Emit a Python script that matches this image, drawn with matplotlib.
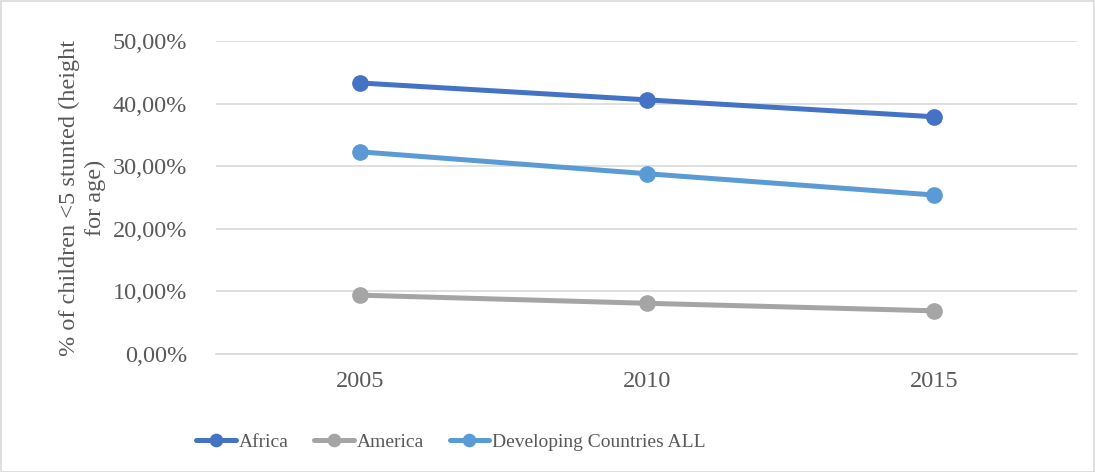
import matplotlib.pyplot as plt
import numpy as np
from matplotlib.ticker import FuncFormatter

years = ['2005', '2010', '2015']
africa = [0.433, 0.406, 0.379]
america = [0.094, 0.081, 0.069]
developing_all = [0.323, 0.288, 0.254]

plt.rcParams['font.family'] = ['Liberation Serif', 'DejaVu Serif']
text_color = '#595959'
grid_color = '#d9d9d9'

fig = plt.figure(figsize=(10.95, 4.72), dpi=100)
ax = fig.add_axes([0.1977, 0.25, 0.7863, 0.6631])

x = np.arange(len(years))
ax.plot(x, africa, color='#4472c4', lw=3.6, marker='o', ms=11, label='Africa', solid_capstyle='round')
ax.plot(x, america, color='#a5a5a5', lw=3.6, marker='o', ms=11, label='America', solid_capstyle='round')
ax.plot(x, developing_all, color='#5b9bd5', lw=3.6, marker='o', ms=11, label='Developing Countries ALL', solid_capstyle='round')

ax.set_xlim(-0.5, 2.5)
ax.set_ylim(0, 0.5)
ax.set_yticks(np.arange(0, 0.51, 0.1))
ax.yaxis.set_major_formatter(FuncFormatter(lambda v, p: f'{v*100:.2f}%'.replace('.', ',')))
ax.set_xticks(x)
ax.set_xticklabels(years)
ax.tick_params(axis='both', length=0, labelsize=17.5, labelcolor=text_color)
ax.tick_params(axis='x', pad=12)
ax.tick_params(axis='y', pad=21)

ax.grid(axis='y', color=grid_color, lw=1.2)
ax.set_axisbelow(True)
for s in ['top', 'right', 'left']:
    ax.spines[s].set_visible(False)
ax.spines['bottom'].set_color(grid_color)
ax.spines['bottom'].set_linewidth(1.2)

ax.set_ylabel('% of children <5 stunted (height\nfor age)', fontsize=17.5, color=text_color,
              linespacing=1.3, labelpad=5)

leg = fig.legend(loc='center', bbox_to_anchor=(0.412, 0.064), ncol=3, frameon=False,
                 fontsize=14, handlelength=2.05, handletextpad=0.15, columnspacing=1.3,
                 labelcolor=text_color, markerscale=0.8)

fig.patches.append(plt.Rectangle((0.001, 0.001), 0.998, 0.997, transform=fig.transFigure,
                                 fill=False, edgecolor=grid_color, lw=1.2))

fig.savefig('out.png', dpi=100)
